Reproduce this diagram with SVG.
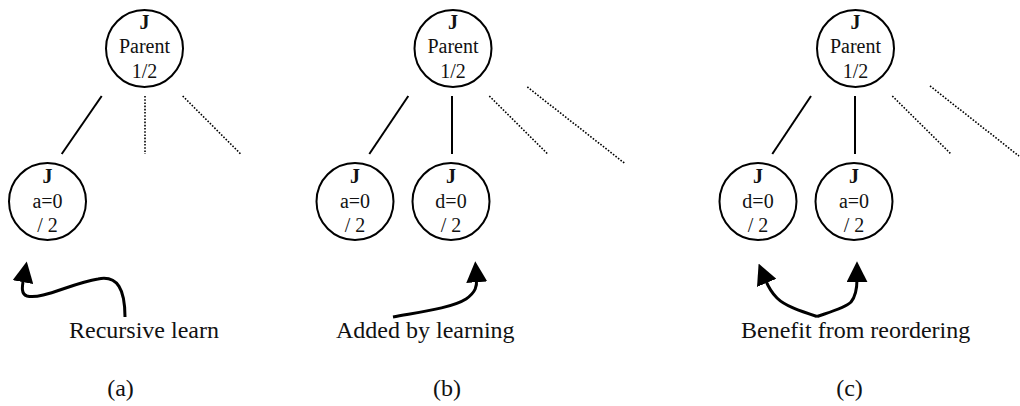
<svg xmlns="http://www.w3.org/2000/svg" width="1020" height="406" viewBox="0 0 1020 406">
<defs>
<style>
.n{fill:none;stroke:#000;stroke-width:2}
.t{font-family:"Liberation Serif","Times New Roman",serif;font-size:20px;fill:#111;text-anchor:middle}
.j{font-weight:bold;font-size:20px}
.lbl{font-family:"Liberation Serif","Times New Roman",serif;font-size:24px;fill:#111}
.s{stroke:#000;stroke-width:2;fill:none}
.d{stroke:#000;stroke-width:1.6;fill:none;stroke-dasharray:1.6 1.6}
.a{stroke:#000;stroke-width:3;fill:none}
</style>
<marker id="ah" viewBox="0 0 10 10" refX="1.5" refY="5" markerWidth="7" markerHeight="7" markerUnits="strokeWidth" orient="auto">
<path d="M0,0 L10,5 L0,10 Z" fill="#000"/>
</marker>
</defs>
<rect width="1020" height="406" fill="#fff"/>
<g id="pa">
<circle class="n" cx="144.5" cy="48.5" r="38.5"/>
<text class="t j" x="144.5" y="29">J</text>
<text class="t" x="144.5" y="53">Parent</text>
<text class="t" x="144.5" y="78">1/2</text>
</g>
<g id="ca">
<circle class="n" cx="47.5" cy="201.5" r="38.5"/>
<text class="t j" x="47.5" y="183">J</text>
<text class="t" x="47.5" y="207.5">a=0</text>
<text class="t" x="47.5" y="232">/ 2</text>
</g>
<g id="pb">
<circle class="n" cx="453" cy="48.5" r="38.5"/>
<text class="t j" x="453" y="29">J</text>
<text class="t" x="453" y="53">Parent</text>
<text class="t" x="453" y="78">1/2</text>
</g>
<g id="cb1">
<circle class="n" cx="355" cy="201.5" r="38.5"/>
<text class="t j" x="355" y="183">J</text>
<text class="t" x="355" y="207.5">a=0</text>
<text class="t" x="355" y="232">/ 2</text>
</g>
<g id="cb2">
<circle class="n" cx="451" cy="201.5" r="38.5"/>
<text class="t j" x="451" y="183">J</text>
<text class="t" x="451" y="207.5">d=0</text>
<text class="t" x="451" y="232">/ 2</text>
</g>
<g id="pc">
<circle class="n" cx="855.5" cy="48.5" r="38.5"/>
<text class="t j" x="855.5" y="29">J</text>
<text class="t" x="855.5" y="53">Parent</text>
<text class="t" x="855.5" y="78">1/2</text>
</g>
<g id="cc1">
<circle class="n" cx="758" cy="201.5" r="38.5"/>
<text class="t j" x="758" y="183">J</text>
<text class="t" x="758" y="207.5">d=0</text>
<text class="t" x="758" y="232">/ 2</text>
</g>
<g id="cc2">
<circle class="n" cx="854" cy="201.5" r="38.5"/>
<text class="t j" x="854" y="183">J</text>
<text class="t" x="854" y="207.5">a=0</text>
<text class="t" x="854" y="232">/ 2</text>
</g>
<g id="connectors">
<line class="s" x1="101.7" y1="96" x2="61.7" y2="154"/>
<line class="d" x1="145" y1="96" x2="145" y2="154"/>
<line class="d" x1="182.7" y1="96" x2="240.7" y2="154"/>
<line class="s" x1="408.3" y1="96" x2="369.3" y2="154"/>
<line class="s" x1="452" y1="96" x2="452" y2="154"/>
<line class="d" x1="489.3" y1="96" x2="547.7" y2="154"/>
<line class="d" x1="527.3" y1="87" x2="624.3" y2="163"/>
<line class="s" x1="811" y1="96" x2="772.3" y2="154"/>
<line class="s" x1="855" y1="96" x2="855" y2="154"/>
<line class="d" x1="892.3" y1="96" x2="951" y2="154"/>
<line class="d" x1="930" y1="86" x2="1019" y2="156"/>
<path class="a" marker-end="url(#ah)" d="M125,317 C125,290 118,275 98,279 C72,283 42,300 27,296 C21,294 22,287 23.5,279"/>
<path class="a" marker-end="url(#ah)" d="M393,317 C420,312 452,308 466,299 C476,292 477,286 476.5,279"/>
<path class="a" marker-end="url(#ah)" d="M817,316.5 C800,311 785,306 777,298 C770,291 768,286 765.5,280"/>
<path class="a" marker-end="url(#ah)" d="M817,316.5 C830,312 845,308 851,302 C856,296 857,288 857,279"/>
</g>
<g id="labels">
<text class="lbl" x="69" y="338">Recursive learn</text>
<text class="lbl" x="336" y="338">Added by learning</text>
<text class="lbl" x="741" y="338">Benefit from reordering</text>
<text class="lbl" x="120.5" y="396" text-anchor="middle">(a)</text>
<text class="lbl" x="447" y="396" text-anchor="middle">(b)</text>
<text class="lbl" x="849.5" y="396" text-anchor="middle">(c)</text>
</g>
</svg>
